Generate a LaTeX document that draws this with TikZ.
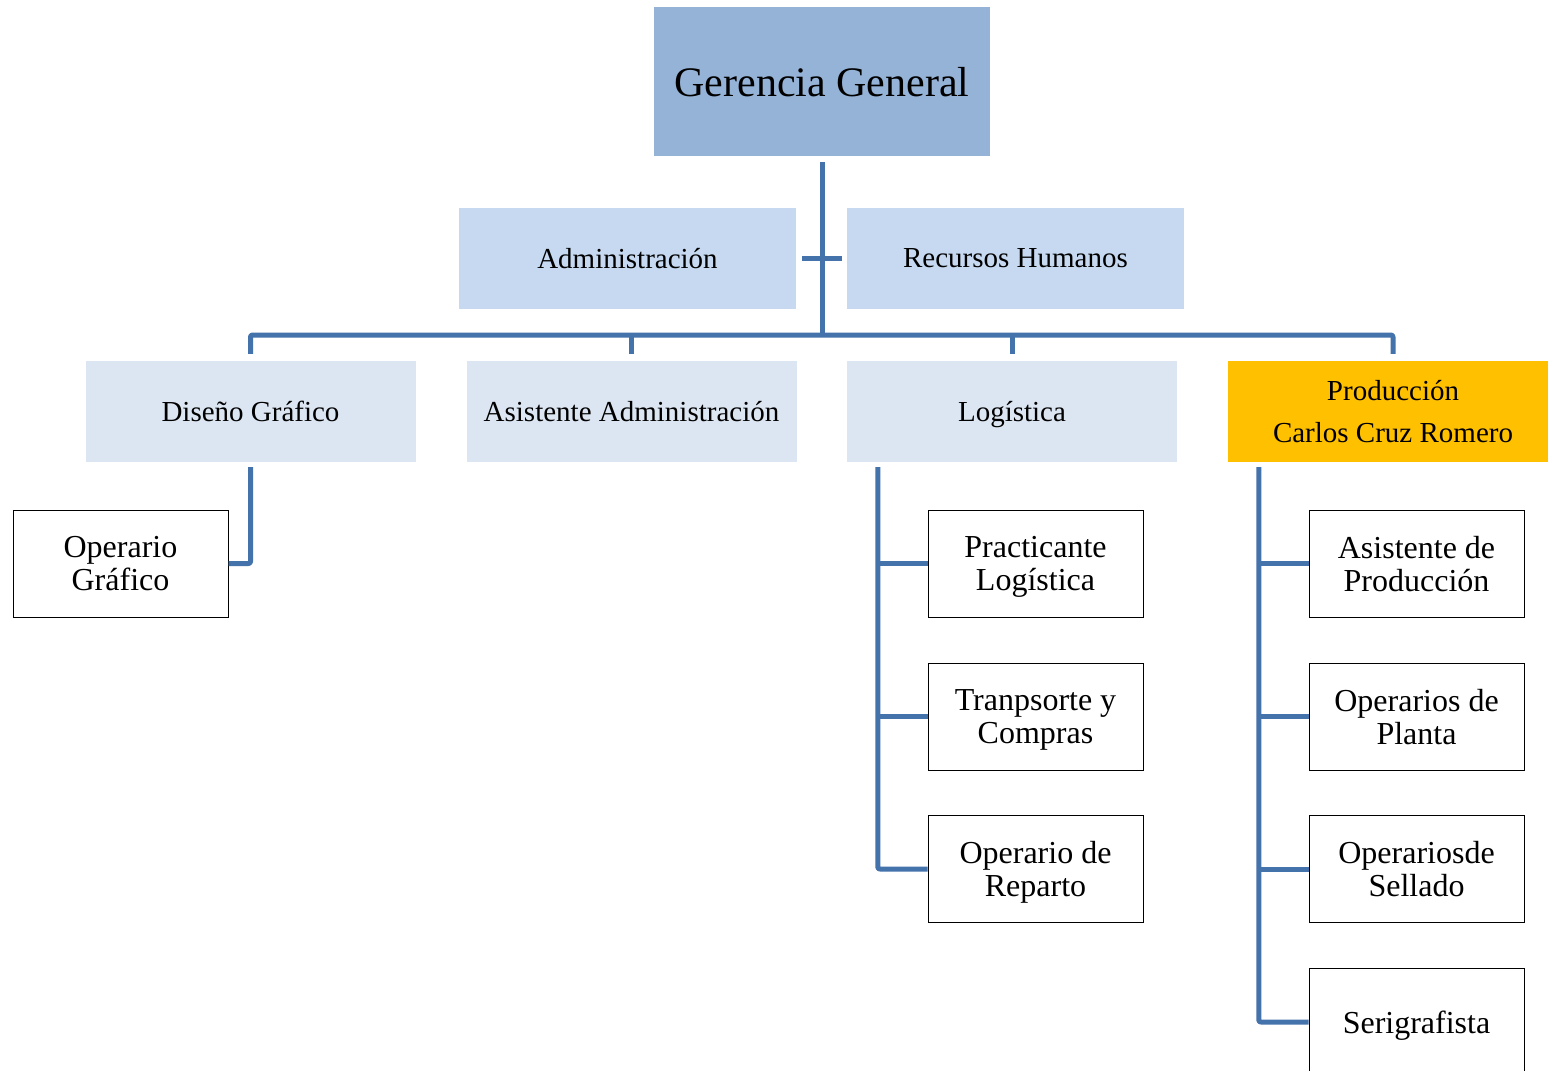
\documentclass[tikz,border=0pt]{standalone}
\usepackage{fontspec}
\setmainfont{Liberation Serif}
\usetikzlibrary{calc}
\definecolor{gmain}{RGB}{149,179,215}
\definecolor{gmid}{RGB}{198,217,241}
\definecolor{glight}{RGB}{220,230,242}
\definecolor{gold}{RGB}{255,192,0}
\definecolor{conncol}{RGB}{68,114,170}
\tikzset{
  anybox/.style={inner sep=0pt, align=center, text depth=0pt},
  topbox/.style={anybox, fill=gmain, draw=none, minimum width=336pt, minimum height=149pt, font=\fontsize{42}{46}\selectfont},
  midbox/.style={anybox, fill=gmid, draw=none, minimum width=337pt, minimum height=101pt, font=\fontsize{29}{34}\selectfont},
  lowbox/.style={anybox, fill=glight, draw=none, minimum width=330pt, minimum height=101pt, font=\fontsize{29}{42}\selectfont},
  prodbox/.style={lowbox, fill=gold},
  leafbox/.style={anybox, fill=white, draw=black, line width=1pt, minimum width=215pt, minimum height=107pt, font=\fontsize{32}{33}\selectfont},
  conn/.style={draw=conncol, line width=5pt, line join=round, rounded corners=2pt}
}
\begin{document}
\begin{tikzpicture}[x=1pt,y=-1pt]
\useasboundingbox (0,0) rectangle (1548,1071);
\node[topbox] (gg) at (822,81.5) {Gerencia General};
\node[midbox] (adm) at (627.5,258.5) {Administración};
\node[midbox] (rrhh) at (1015.5,258.5) {Recursos Humanos};
\node[lowbox] (dis) at (250.5,411.5) {Diseño Gráfico};
\node[lowbox] (asi) at (631.5,411.5) {Asistente Administración};
\node[lowbox] (log) at (1012,411.5) {Logística};
\node[prodbox] (prod) at (1393,411.5) {Producción\\Carlos Cruz Romero};
\node[leafbox] (opg) at (120.5,563.5) {Operario\\Gráfico};
\node[leafbox] (pl) at (1035.5,563.5) {Practicante\\Logística};
\node[leafbox] (tc) at (1035.5,716.5) {Tranpsorte y\\Compras};
\node[leafbox] (ore) at (1035.5,869) {Operario de\\Reparto};
\node[leafbox] (ap) at (1416.5,563.5) {Asistente de\\Producción};
\node[leafbox] (opp) at (1416.5,716.5) {Operarios de\\Planta};
\node[leafbox] (os) at (1416.5,869) {Operariosde\\Sellado};
\node[leafbox, minimum height=108pt] (ser) at (1416.5,1022) {Serigrafista};
% main trunk
\coordinate (bus) at (822,335);
\draw[conn] ([yshift=-6pt]gg.south) -- (bus);
\draw[conn] ([xshift=6pt]adm.east) -- ([xshift=-5pt]rrhh.west);
\draw[conn] ([yshift=7pt]dis.north) |- (bus) -| ([yshift=7pt]prod.north);
\draw[conn] ([yshift=7pt]asi.north) -- (asi.north |- bus);
\draw[conn] ([yshift=7pt]log.north) -- (log.north |- bus);
% Diseño
\draw[conn] ([yshift=-5pt]dis.south) |- (opg.east);
% Logística
\coordinate (lsp) at ([xshift=31pt,yshift=-5pt]log.south west);
\draw[conn] (lsp) |- (ore.west);
\draw[conn] (pl.west) -- (pl.west -| lsp);
\draw[conn] (tc.west) -- (tc.west -| lsp);
% Producción
\coordinate (psp) at ([xshift=31pt,yshift=-5pt]prod.south west);
\draw[conn] (psp) |- (ser.west);
\draw[conn] (ap.west) -- (ap.west -| psp);
\draw[conn] (opp.west) -- (opp.west -| psp);
\draw[conn] (os.west) -- (os.west -| psp);
\end{tikzpicture}
\end{document}
